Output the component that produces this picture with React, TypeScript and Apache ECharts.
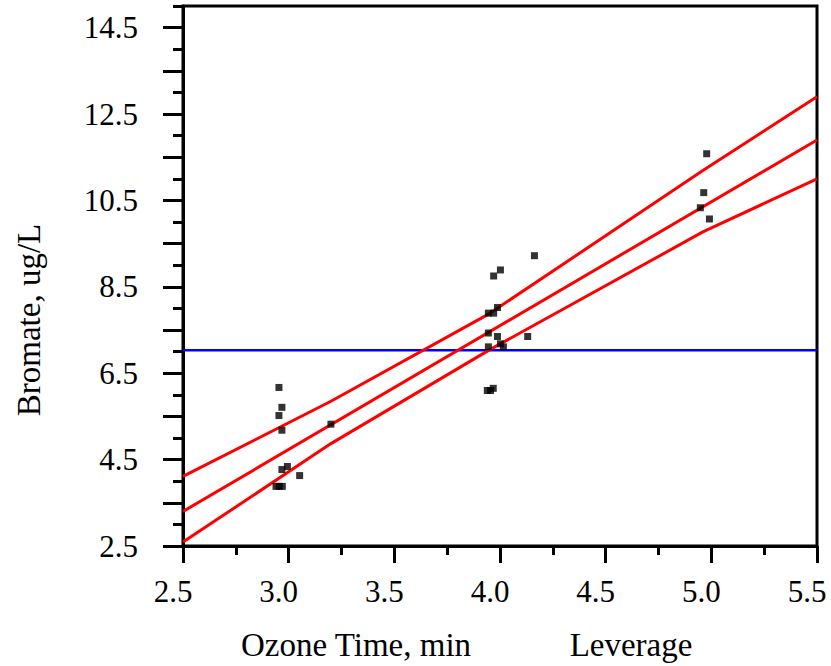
import React, { useEffect, useRef } from "react";
import * as echarts from "echarts";

// Observed points (ozone time leverage x, bromate leverage y)
const pointX = [
  2.954, 2.968, 2.954, 2.968, 3.2, 2.994, 2.968, 3.052, 2.94, 2.955, 2.97,
  4.163, 4.002, 3.97, 3.988, 3.945, 3.97, 3.945, 3.988, 4.131, 4.002, 4.016, 3.945, 3.94, 3.955, 3.968,
  4.978, 4.964, 4.948, 4.991,
];
const pointY = [
  6.17, 5.71, 5.52, 5.18, 5.32, 4.34, 4.27, 4.13, 3.88, 3.88, 3.88,
  9.22, 8.89, 8.75, 8.02, 7.89, 7.89, 7.43, 7.35, 7.35, 7.18, 7.11, 7.11, 6.1, 6.1, 6.15,
  11.58, 10.68, 10.33, 10.07,
];

// Fit line and confidence curves
const fitX = [2.5, 5.5];
const fitY = [3.3, 11.9];
const upperX = [2.5, 3.2, 3.95, 4.96, 5.5];
const upperY = [4.11, 5.85, 7.88, 11.19, 12.9];
const lowerX = [2.5, 3.2, 3.95, 4.96, 5.5];
const lowerY = [2.59, 4.87, 7.04, 9.77, 11.0];
const meanX = [2.5, 5.5];
const meanY = [7.03, 7.03];

// Axis ticks / labels
const xLabels = [2.5, 3.0, 3.5, 4.0, 4.5, 5.0, 5.5];
const yLabelValues = [2.5, 4.5, 6.5, 8.5, 10.5, 12.5, 14.5];
const yLongTicks = [2.5, 3.5, 4.5, 5.5, 6.5, 7.5, 8.5, 9.5, 10.5, 11.5, 12.5, 13.5, 14.5];
const yShortTicks = [3, 4, 5, 6, 7, 8, 9, 10, 11, 12, 13, 14, 15];

const zip = (xs: number[], ys: number[]) => xs.map((x, i) => [x, ys[i]]);

const FONT = "'Liberation Serif', 'Times New Roman', serif";

export default function App() {
  const ref = useRef<HTMLDivElement>(null);
  useEffect(() => {
    if (!ref.current) return;
    const chart = echarts.init(ref.current, null, { renderer: "svg" });
    const black = "#000";
    chart.setOption({
      animation: false,
      backgroundColor: "#fff",
      grid: {
        left: 183,
        right: 14,
        top: 6,
        bottom: 120,
        show: true,
        borderColor: black,
        borderWidth: 3,
      },
      xAxis: {
        type: "value",
        min: 2.5,
        max: 5.5,
        interval: 0.5,
        axisLine: { show: true, onZero: false, lineStyle: { color: black, width: 3 } },
        axisTick: { show: true, length: 17, lineStyle: { color: black, width: 3 } },
        minorTick: { show: true, splitNumber: 2, length: 9, lineStyle: { color: black, width: 3 } },
        splitLine: { show: false },
        axisLabel: {
          show: true,
          customValues: xLabels,
          formatter: (v: number) => v.toFixed(1),
          color: black,
          fontFamily: FONT,
          fontSize: 31,
          margin: 30,
          padding: [0, 20, 0, 0],
        },
      },
      yAxis: [
        {
          type: "value",
          min: 2.5,
          max: 15,
          interval: 1,
          axisLine: { show: true, onZero: false, lineStyle: { color: black, width: 3 } },
          axisTick: { show: true, customValues: yLongTicks, length: 20, lineStyle: { color: black, width: 3 } },
          splitLine: { show: false },
          axisLabel: {
            show: true,
            customValues: yLabelValues,
            formatter: (v: number) => v.toFixed(1),
            color: black,
            fontFamily: FONT,
            fontSize: 31,
            margin: 45,
            padding: [8, 0, 0, 0],
          },
        },
        {
          type: "value",
          min: 2.5,
          max: 15,
          interval: 1,
          position: "left",
          axisLine: { show: false, onZero: false },
          axisTick: { show: true, customValues: yShortTicks, length: 10, lineStyle: { color: black, width: 3 } },
          splitLine: { show: false },
          axisLabel: { show: false },
        },
      ],
      series: [
        {
          type: "line",
          data: zip(meanX, meanY),
          showSymbol: false,
          lineStyle: { color: "#0000ff", width: 2.5 },
          z: 2,
        },
        {
          type: "line",
          data: zip(fitX, fitY),
          showSymbol: false,
          lineStyle: { color: "#ff0000", width: 3 },
          z: 3,
        },
        {
          type: "line",
          data: zip(upperX, upperY),
          showSymbol: false,
          lineStyle: { color: "#ff0000", width: 3 },
          z: 3,
        },
        {
          type: "line",
          data: zip(lowerX, lowerY),
          showSymbol: false,
          lineStyle: { color: "#ff0000", width: 3 },
          z: 3,
        },
        {
          type: "scatter",
          data: zip(pointX, pointY),
          symbol: "rect",
          symbolSize: 7,
          itemStyle: { color: black },
          z: 4,
        },
      ],
      graphic: [
        {
          type: "text",
          x: 29,
          y: 320,
          rotation: Math.PI / 2,
          style: {
            text: "Bromate, ug/L",
            fill: black,
            font: `33px ${FONT}`,
            align: "center",
            verticalAlign: "middle",
          },
        },
        {
          type: "text",
          x: 356,
          y: 645,
          style: {
            text: "Ozone Time, min",
            fill: black,
            font: `33px ${FONT}`,
            align: "center",
            verticalAlign: "middle",
          },
        },
        {
          type: "text",
          x: 631,
          y: 645,
          style: {
            text: "Leverage",
            fill: black,
            font: `33px ${FONT}`,
            align: "center",
            verticalAlign: "middle",
          },
        },
      ],
    });
    return () => chart.dispose();
  }, []);
  return (
    <div
      ref={ref}
      style={{ position: "fixed", left: 0, top: 0, width: 831, height: 666, background: "#fff" }}
    />
  );
}
